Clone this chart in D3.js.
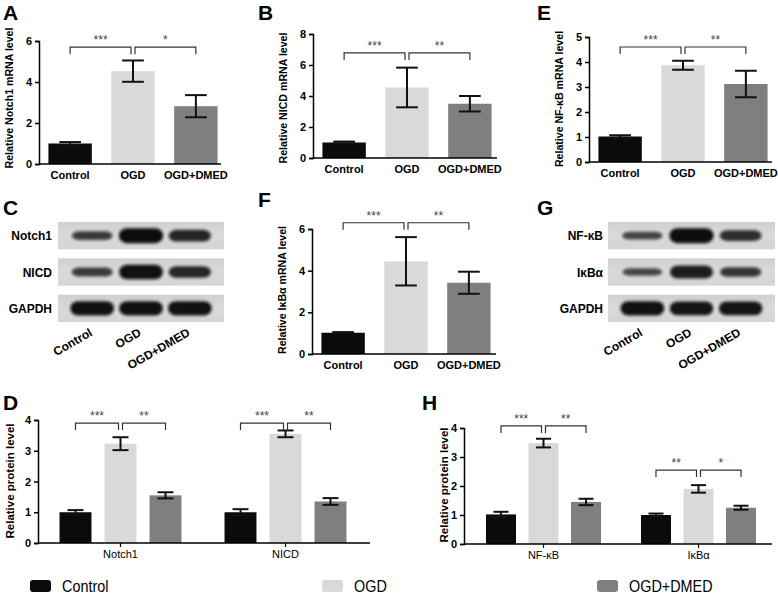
<!DOCTYPE html>
<html><head><meta charset="utf-8">
<script src="https://cdn.jsdelivr.net/npm/d3@7"></script>
<style>
body{margin:0;background:#fff}
svg{display:block}
text{font-family:"Liberation Sans",Arial,sans-serif}
</style>
</head><body>
<svg id="c" width="778" height="595"></svg>
<script>
// ---------------- DATA ----------------
const groups = ["Control", "OGD", "OGD+DMED"];

const notch1Mrna = [1.00, 4.53, 2.82];
const notch1MrnaErr = [0.07, 0.52, 0.54];
const notch1MrnaSig = ["***", "*"];

const nicdMrna = [1.00, 4.55, 3.50];
const nicdMrnaErr = [0.06, 1.28, 0.50];
const nicdMrnaSig = ["***", "**"];

const nfkbMrna = [1.02, 3.87, 3.12];
const nfkbMrnaErr = [0.05, 0.18, 0.53];
const nfkbMrnaSig = ["***", "**"];

const ikbaMrna = [1.02, 4.45, 3.42];
const ikbaMrnaErr = [0.03, 1.16, 0.53];
const ikbaMrnaSig = ["***", "**"];

const proteinsD = ["Notch1", "NICD"];
const proteinD = [[1.00, 3.23, 1.55], [1.00, 3.55, 1.35]];
const proteinDErr = [[0.07, 0.21, 0.10], [0.10, 0.11, 0.11]];
const proteinDSig = [["***", "**"], ["***", "**"]];

const proteinsH = ["NF-κB", "IκBα"];
const proteinH = [[1.02, 3.48, 1.45], [1.00, 1.90, 1.25]];
const proteinHErr = [[0.09, 0.15, 0.11], [0.05, 0.13, 0.07]];
const proteinHSig = [["***", "**"], ["**", "*"]];

const blotRowsC = ["Notch1", "NICD", "GAPDH"];
const blotC = [[0.45, 1.0, 0.7], [0.45, 0.95, 0.7], [0.95, 0.95, 0.95]];
const blotRowsG = ["NF-κB", "IκBα", "GAPDH"];
const blotG = [[0.35, 1.0, 0.6], [0.3, 0.8, 0.5], [0.95, 0.9, 0.9]];

// ---------------- STYLE ----------------
const barColors = ["#0b0b0b", "#d9d9d9", "#7f7f7f"];
const color = d3.scaleOrdinal().domain(groups).range(barColors);

const svg = d3.select("#c");
const defs = svg.append("defs");
defs.append("filter").attr("id", "blur").attr("x", "-20%").attr("y", "-50%").attr("width", "140%").attr("height", "200%")
  .append("feGaussianBlur").attr("stdDeviation", 1.5);
const grad = defs.append("linearGradient").attr("id", "strip").attr("x1", 0).attr("y1", 0).attr("x2", 0).attr("y2", 1);
grad.append("stop").attr("offset", "0%").attr("stop-color", "#d0d0d0");
grad.append("stop").attr("offset", "50%").attr("stop-color", "#dadada");
grad.append("stop").attr("offset", "100%").attr("stop-color", "#d4d4d4");

function letter(t, x, y) {
  svg.append("text").attr("x", x).attr("y", y).text(t)
    .attr("font-size", 21).attr("font-weight", "bold").attr("fill", "#000");
}

function yAxis(g, y, ticks, x0) {
  const ax = g.append("g").attr("transform", `translate(${x0},0)`)
    .call(d3.axisLeft(y).tickValues(ticks).tickSize(4).tickPadding(3).tickFormat(d3.format("d")));
  ax.select(".domain").attr("stroke", "#000").attr("stroke-width", 1.5);
  ax.selectAll(".tick line").attr("stroke", "#000").attr("stroke-width", 1.5);
  ax.selectAll(".tick text").attr("font-size", 11).attr("font-weight", "bold")
    .attr("font-family", "'Liberation Sans',Arial,sans-serif").attr("fill", "#000");
}

function yLabel(g, text, x, yc, size) {
  g.append("text").attr("transform", `translate(${x},${yc}) rotate(-90)`)
    .attr("text-anchor", "middle").attr("font-size", size).attr("font-weight", "bold").text(text);
}

function drawBars(g, xs, y, vals, errs, capFrac) {
  const bw = xs.bandwidth();
  g.selectAll(null).data(groups).join("rect")
    .attr("x", d => xs(d)).attr("width", bw)
    .attr("y", (d, i) => y(vals[i])).attr("height", (d, i) => y(0) - y(vals[i]))
    .attr("fill", d => color(d));
  const eb = g.selectAll(null).data(groups).join("g");
  eb.append("line")
    .attr("x1", d => xs(d) + bw / 2).attr("x2", d => xs(d) + bw / 2)
    .attr("y1", (d, i) => y(vals[i] - errs[i])).attr("y2", (d, i) => y(vals[i] + errs[i]));
  eb.append("line")
    .attr("x1", d => xs(d) + bw / 2 - bw * capFrac / 2).attr("x2", d => xs(d) + bw / 2 + bw * capFrac / 2)
    .attr("y1", (d, i) => y(vals[i] - errs[i])).attr("y2", (d, i) => y(vals[i] - errs[i]));
  eb.append("line")
    .attr("x1", d => xs(d) + bw / 2 - bw * capFrac / 2).attr("x2", d => xs(d) + bw / 2 + bw * capFrac / 2)
    .attr("y1", (d, i) => y(vals[i] + errs[i])).attr("y2", (d, i) => y(vals[i] + errs[i]));
  eb.selectAll("line").attr("stroke", "#111").attr("stroke-width", 2);
}

function brackets(g, xs, y, level, sig) {
  const c = groups.map(d => xs(d) + xs.bandwidth() / 2);
  const yb = y(level), drop = 7, gap = 2;
  const spans = [[c[0], c[1] - gap], [c[1] + gap, c[2]]];
  spans.forEach((s, i) => {
    g.append("path")
      .attr("d", `M${s[0]},${yb + drop}V${yb}H${s[1]}V${yb + drop}`)
      .attr("fill", "none").attr("stroke", "#333").attr("stroke-width", 1.2);
    g.append("text").attr("x", (s[0] + s[1]) / 2).attr("y", yb - 3)
      .attr("text-anchor", "middle").attr("font-size", 12).attr("fill", "#444").text(sig[i]);
  });
}

// ---------------- mRNA panels ----------------
function mrnaPanel(p) {
  const g = svg.append("g");
  const y = d3.scaleLinear().domain([0, p.max]).range([p.y0, p.yTop]);
  const xs = d3.scaleBand().domain(groups).range([p.x0, p.x0 + 188]).paddingInner(0.31).paddingOuter(0.15);
  drawBars(g, xs, y, p.vals, p.errs, 0.5);
  yAxis(g, y, d3.range(0, p.max + 0.001, p.step), p.x0);
  g.append("line").attr("x1", p.x0).attr("x2", p.x1).attr("y1", p.y0).attr("y2", p.y0)
    .attr("stroke", "#000").attr("stroke-width", 1.5);
  g.selectAll(null).data(groups).join("text")
    .attr("x", d => xs(d) + xs.bandwidth() / 2).attr("y", p.y0 + 15)
    .attr("text-anchor", "middle").attr("font-size", 11).attr("font-weight", "bold").text(d => d);
  brackets(g, xs, y, p.bracket, p.sig);
  yLabel(g, p.ylabel, p.x0 - 26, p.labY, 10.6);
}

mrnaPanel({x0: 39, x1: 221, y0: 164, yTop: 41, max: 6, step: 2, vals: notch1Mrna, errs: notch1MrnaErr,
  sig: notch1MrnaSig, bracket: 5.7, ylabel: "Relative Notch1 mRNA level", labY: 98});
mrnaPanel({x0: 313, x1: 497, y0: 158, yTop: 34, max: 8, step: 2, vals: nicdMrna, errs: nicdMrnaErr,
  sig: nicdMrnaSig, bracket: 6.78, ylabel: "Relative NICD mRNA level", labY: 98});
mrnaPanel({x0: 589, x1: 772, y0: 162, yTop: 37, max: 5, step: 1, vals: nfkbMrna, errs: nfkbMrnaErr,
  sig: nfkbMrnaSig, bracket: 4.6, ylabel: "Relative NF-κB mRNA level", labY: 99});
mrnaPanel({x0: 312, x1: 496, y0: 354, yTop: 229, max: 6, step: 2, vals: ikbaMrna, errs: ikbaMrnaErr,
  sig: ikbaMrnaSig, bracket: 6.3, ylabel: "Relative IκBα mRNA level", labY: 290});

// ---------------- protein panels ----------------
function proteinPanel(p) {
  const g = svg.append("g");
  const y = d3.scaleLinear().domain([0, 4]).range([p.y0, p.yTop]);
  const xo = d3.scaleBand().domain(p.cats).range(p.outer).padding(0);
  const xi = d3.scaleBand().domain(groups).range([0, xo.bandwidth()]).paddingInner(p.pi).paddingOuter(p.po);
  p.cats.forEach((c, k) => {
    const gg = g.append("g");
    const xs = xi.copy().range([xo(c), xo(c) + xo.bandwidth()]);
    drawBars(gg, xs, y, p.vals[k], p.errs[k], 0.5);
    brackets(gg, xs, y, p.brackets[k], p.sig[k]);
  });
  yAxis(g, y, [0, 1, 2, 3, 4], p.x0);
  const xa = g.append("g").attr("transform", `translate(0,${p.y0})`)
    .call(d3.axisBottom(xo).tickSize(4).tickPadding(3));
  xa.select(".domain").remove();
  xa.selectAll(".tick line").attr("stroke", "#000").attr("stroke-width", 1.2);
  xa.selectAll(".tick text").attr("font-size", 11).attr("fill", "#000")
    .attr("font-family", "'Liberation Sans',Arial,sans-serif");
  g.append("line").attr("x1", p.x0).attr("x2", p.x1).attr("y1", p.y0).attr("y2", p.y0)
    .attr("stroke", "#000").attr("stroke-width", 1.5);
  yLabel(g, "Relative protein level", p.labX, p.labY, 11.5);
}

proteinPanel({x0: 38, x1: 370, y0: 543, yTop: 420, outer: [38, 368], pi: 0.29, po: 0.478,
  cats: proteinsD, vals: proteinD, errs: proteinDErr, sig: proteinDSig, brackets: [3.9, 3.9], labX: 14, labY: 481});
proteinPanel({x0: 464, x1: 772, y0: 544, yTop: 428, outer: [466, 776], pi: 0.294, po: 0.47,
  cats: proteinsH, vals: proteinH, errs: proteinHErr, sig: proteinHSig, brackets: [4.07, 2.55], labX: 448, labY: 485});

// ---------------- western blots ----------------
function blot(p) {
  const g = svg.append("g");
  const rows = d3.scaleBand().domain(p.rows).range([222, 322]).paddingInner(0.25);
  const lanes = d3.scalePoint().domain(groups).range([p.x0, p.x1]).padding(0.7);
  p.rows.forEach((r, k) => {
    g.append("rect").attr("x", p.x0).attr("y", rows(r)).attr("width", p.x1 - p.x0)
      .attr("height", rows.bandwidth()).attr("fill", "url(#strip)");
    g.append("text").attr("x", p.labelX).attr("y", rows(r) + rows.bandwidth() / 2 + 4.5)
      .attr("text-anchor", "end").attr("font-size", 12).attr("font-weight", "bold").text(r);
    g.selectAll(null).data(groups).join("rect")
      .attr("x", (d, i) => lanes(d) - (19 + 3 * p.data[k][i]))
      .attr("width", (d, i) => 2 * (19 + 3 * p.data[k][i]))
      .attr("y", (d, i) => rows(r) + rows.bandwidth() / 2 - (2 + 5.5 * p.data[k][i]))
      .attr("height", (d, i) => 2 * (2 + 5.5 * p.data[k][i]))
      .attr("rx", 8).attr("ry", (d, i) => 2 + 5 * p.data[k][i])
      .attr("fill", "#0e0e0e")
      .attr("opacity", (d, i) => 0.6 + 0.4 * p.data[k][i])
      .attr("filter", "url(#blur)");
  });
  g.selectAll(null).data(groups).join("text")
    .attr("transform", d => `translate(${lanes(d) + 1},335) rotate(-30)`)
    .attr("text-anchor", "end").attr("font-size", 12).attr("font-weight", "bold").text(d => d);
}
blot({x0: 58, x1: 224, labelX: 52, rows: blotRowsC, data: blotC});
blot({x0: 608, x1: 775, labelX: 603, rows: blotRowsG, data: blotG});

// ---------------- letters ----------------
letter("A", 3, 20); letter("B", 258, 20); letter("E", 537, 20);
letter("C", 3, 215); letter("F", 258, 207); letter("G", 537, 215);
letter("D", 3, 410); letter("H", 422, 410);

// ---------------- legend ----------------
const legendX = [30, 322, 597];
const lg = svg.selectAll(".lg").data(groups).join("g").attr("class", "lg")
  .attr("transform", (d, i) => `translate(${legendX[i]},580)`);
lg.append("rect").attr("width", 21).attr("height", 12).attr("rx", 3).attr("fill", d => color(d));
lg.append("text").attr("x", 32).attr("y", 11.5).attr("font-size", 16)
  .attr("transform", "translate(32,0) scale(0.9,1) translate(-32,0)")
  .style("font-family", "'Liberation Sans Narrow','Arial Narrow',sans-serif").text(d => d);
</script>
</body></html>
